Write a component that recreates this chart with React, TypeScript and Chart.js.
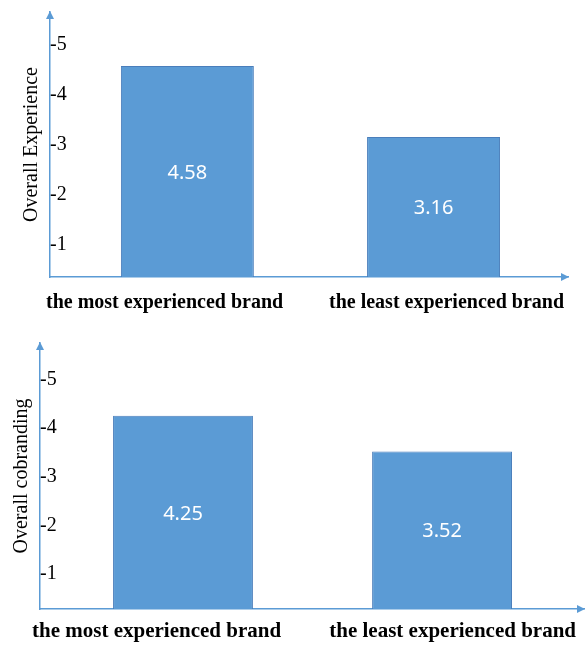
import React, { useEffect, useRef } from 'react';
import { Chart, registerables } from 'chart.js';

Chart.register(...registerables);

// ---- data ----
const CATEGORIES = ['the most experienced brand', 'the least experienced brand'];
const EXPERIENCE_VALUES = [4.58, 3.16];
const COBRANDING_VALUES = [4.25, 3.52];
const Y_TICK_VALUES = [1, 2, 3, 4, 5];
const Y_TICK_LABELS = ['-1', '-2', '-3', '-4', '-5'];
const Y_TITLES = ['Overall Experience', 'Overall cobranding'];

// ---- styles ----
const AXIS_COLOR = '#5B9BD5';
const BAR_COLOR = '#5B9BD5';
const BAR_BORDER = '#4A7EBB';
const SERIF = '"Liberation Serif", "Times New Roman", serif';
const VALUE_FONT_SIZE = 20;

const arrowPlugin = {
  id: 'axisArrows',
  afterDraw(chart: any) {
    const { ctx, chartArea } = chart;
    const { left, right, top, bottom } = chartArea;
    ctx.save();
    ctx.fillStyle = AXIS_COLOR;
    ctx.beginPath();
    ctx.moveTo(left, top - 1);
    ctx.lineTo(left - 4, top + 7);
    ctx.lineTo(left + 4, top + 7);
    ctx.closePath();
    ctx.fill();
    ctx.beginPath();
    ctx.moveTo(right + 1, bottom);
    ctx.lineTo(right - 7, bottom - 4);
    ctx.lineTo(right - 7, bottom + 4);
    ctx.closePath();
    ctx.fill();
    ctx.restore();
  },
};

const valueLabelPlugin = {
  id: 'valueLabels',
  afterDatasetsDraw(chart: any) {
    const { ctx, chartArea } = chart;
    const meta = chart.getDatasetMeta(0);
    const ds = chart.data.datasets[0];
    ctx.save();
    ctx.fillStyle = '#ffffff';
    ctx.font = `${VALUE_FONT_SIZE}px "Noto Sans", sans-serif`;
    ctx.textAlign = 'center';
    ctx.textBaseline = 'alphabetic';
    meta.data.forEach((bar: any, i: number) => {
      const v = ds.data[i].y;
      const mid = (bar.y + Math.min(bar.base, chartArea.bottom)) / 2;
      ctx.fillText(v.toFixed(2), bar.x, mid + VALUE_FONT_SIZE * 0.36);
    });
    ctx.restore();
  },
};

type PanelProps = {
  values: number[];
  title: string;
  height: number;
  padTop: number;
  padRight: number;
  yAxisWidth: number;
  xAxisHeight: number;
  titlePad: number;
  labelSize: number;
  labelOffset: number;
  labelGap: number;
  yMin: number;
  yMax: number;
  xMin: number;
  xMax: number;
};

function Panel(p: PanelProps) {
  const ref = useRef<HTMLCanvasElement | null>(null);
  useEffect(() => {
    if (!ref.current) return;
    const chart = new Chart(ref.current, {
      type: 'bar',
      data: {
        labels: CATEGORIES,
        datasets: [
          {
            data: p.values.map((v, i) => ({ x: i, y: v })) as any,
            xAxisID: 'xb',
            yAxisID: 'y',
            base: p.yMin,
            backgroundColor: BAR_COLOR,
            borderColor: BAR_BORDER,
            borderWidth: 1,
            barPercentage: 0.54,
            categoryPercentage: 1,
          },
        ],
      },
      options: {
        animation: false,
        responsive: false,
        maintainAspectRatio: false,
        layout: { padding: { top: p.padTop, right: p.padRight, bottom: 0, left: 0 } },
        plugins: { legend: { display: false }, tooltip: { enabled: false } },
        scales: {
          xb: {
            type: 'linear',
            position: 'bottom',
            display: false,
            offset: false,
            min: p.xMin,
            max: p.xMax,
            afterBuildTicks: (s: any) => {
              s.ticks = CATEGORIES.map((_c, i) => ({ value: i }));
            },
          },
          x: {
            type: 'category',
            position: 'bottom',
            offset: false,
            grid: { display: false, drawTicks: true, tickLength: p.labelGap },
            border: { display: true, color: AXIS_COLOR, width: 1.5 },
            ticks: {
              align: 'inner',
              maxRotation: 0,
              autoSkip: false,
              padding: 0,
              labelOffset: p.labelOffset,
              color: '#000',
              font: { family: SERIF, size: p.labelSize, weight: 'bold' },
            },
            afterFit: (s: any) => {
              s.height = p.xAxisHeight;
            },
          },
          y: {
            type: 'linear',
            position: 'left',
            min: p.yMin,
            max: p.yMax,
            grid: { display: false, drawTicks: false },
            border: { display: true, color: AXIS_COLOR, width: 1.5 },
            afterBuildTicks: (s: any) => {
              s.ticks = Y_TICK_VALUES.map((v) => ({ value: v }));
            },
            ticks: {
              mirror: true,
              padding: 0,
              color: '#000',
              font: { family: SERIF, size: 20 },
              callback: (_v: any, i: number) => Y_TICK_LABELS[i],
            },
            title: {
              display: true,
              text: p.title,
              color: '#000',
              font: { family: SERIF, size: 20 },
              padding: { top: p.titlePad, bottom: 0 },
            },
            afterFit: (s: any) => {
              s.width = p.yAxisWidth;
            },
          },
        },
      } as any,
      plugins: [arrowPlugin, valueLabelPlugin],
    });
    return () => chart.destroy();
  }, []);
  return (
    <canvas
      ref={ref}
      width={587}
      height={p.height}
      style={{ display: 'block', width: 587, height: p.height }}
    />
  );
}

export default function App() {
  return (
    <div
      style={{
        position: 'absolute',
        left: 0,
        top: 0,
        width: 587,
        height: 647,
        background: '#fff',
        overflow: 'hidden',
      }}
    >
      <Panel
        values={EXPERIENCE_VALUES}
        title={Y_TITLES[0]}
        height={320}
        padTop={12}
        padRight={19}
        yAxisWidth={50}
        xAxisHeight={43}
        titlePad={20}
        labelSize={20}
        labelOffset={-4}
        labelGap={14}
        yMin={0.36}
        yMax={5.66}
        xMin={-0.558}
        xMax={1.546}
      />
      <Panel
        values={COBRANDING_VALUES}
        title={Y_TITLES[1]}
        height={327}
        padTop={23}
        padRight={3}
        yAxisWidth={40}
        xAxisHeight={38}
        titlePad={10}
        labelSize={21}
        labelOffset={-8}
        labelGap={10}
        yMin={0.287}
        yMax={5.744}
        xMin={-0.552}
        xMax={1.548}
      />
    </div>
  );
}
